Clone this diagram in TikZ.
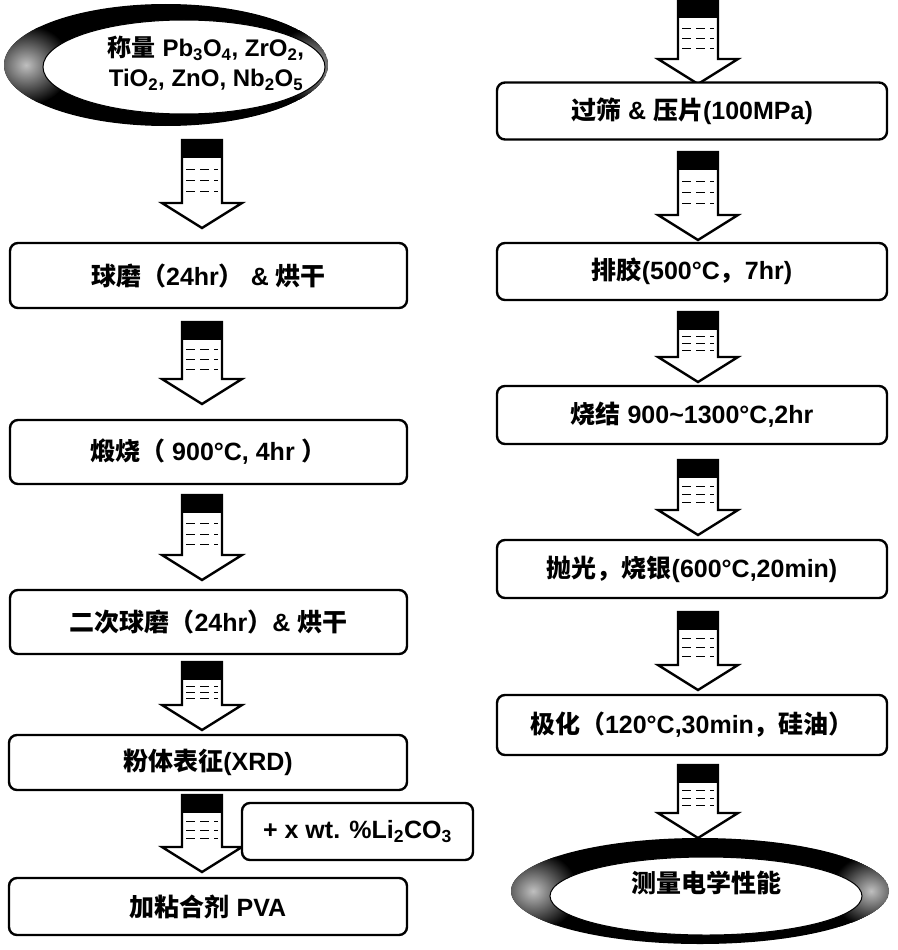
\documentclass[tikz,border=0pt]{standalone}
\usepackage{fontspec}
\setmainfont{Liberation Sans}
\newfontfamily\zhfont{Noto Sans CJK SC}
\newcommand{\zh}[1]{{\zhfont #1}}
\newcommand{\sub}[1]{\textsubscript{#1}}
\newcommand{\barrow}[3]{%
  \fill[white,draw=black,line width=2.4pt,line join=miter]
    ({#1-20},#2) -- ({#1+20},#2) -- ({#1+20},{#3-25}) -- ({#1+40},{#3-25}) --
    (#1,#3) -- ({#1-40},{#3-25}) -- ({#1-20},{#3-25}) -- cycle;
  \fill[black] ({#1-20},#2) rectangle ({#1+20},{#2+18});
  \foreach \k in {1,2,3}{
    \draw[line width=0.8pt,dash pattern=on 9pt off 5pt]
      ({#1-16},{#2+18+\k*((#3-25-#2-18)/4)}) -- ({#1+16},{#2+18+\k*((#3-25-#2-18)/4)});
  }
}
% ring: outer cx cy rx ry, inner cx cy rx ry
\newcommand{\ring}[8]{%
  \begin{scope}
    \clip (#1,#2) ellipse [x radius=#3, y radius=#4];
    \fill[black] (#1,#2) ellipse [x radius=#3, y radius=#4];
    \shade[inner color=gray!50, outer color=black] ({#1-#3+22},#2) ellipse [x radius=45, y radius=40];
    \shade[inner color=gray!50, outer color=black] ({#1+#3-18},#2) ellipse [x radius=40, y radius=36];
  \end{scope}
  \fill[white,draw=black,line width=1pt] (#5,#6) ellipse [x radius=#7, y radius=#8];
}
\tikzset{
  stepbox/.style={draw=black,line width=2.4pt,rounded corners=8pt,fill=white,inner sep=0pt,anchor=center},
  lbl/.style={font=\fontsize{25}{30}\selectfont\bfseries, align=center, inner sep=0pt},
}
\begin{document}
\begin{tikzpicture}[x=1pt,y=-1pt]
\useasboundingbox (0,0) rectangle (897,950);
\fill[white] (0,0) rectangle (897,950);
% ---------- left column ----------
\ring{166}{65}{162}{61}{184}{67}{141}{47}
\node[lbl,font=\fontsize{24}{30}\selectfont\bfseries] (e1) at (206,63) {\zh{称量} Pb\sub{3}O\sub{4}, ZrO\sub{2},\\TiO\sub{2}, ZnO, Nb\sub{2}O\sub{5}};
\barrow{202}{140}{228}
\node[stepbox,minimum width=397pt,minimum height=65pt] (b1) at (208.5,275.5) {};
\node[lbl] at (b1) {\zh{球磨（}24hr\zh{）} \& \zh{烘干}};
\barrow{202}{322}{404}
\node[stepbox,minimum width=397pt,minimum height=64pt] (b2) at (208.5,452) {};
\node[lbl] at (b2) {\zh{煅烧（} 900°C, 4hr \zh{）}};
\barrow{202}{495}{580}
\node[stepbox,minimum width=397pt,minimum height=64pt] (b3) at (208.5,622) {};
\node[lbl] at (b3) {\zh{二次球磨（}24hr\zh{）}\& \zh{烘干}};
\barrow{202}{662}{730}
\node[stepbox,minimum width=398pt,minimum height=55pt] (b4) at (208,762.5) {};
\node[lbl] at (b4) {\zh{粉体表征}(XRD)};
\barrow{202}{795}{872}
\node[stepbox,minimum width=231pt,minimum height=57pt] (li) at (357.5,831.5) {};
\node[lbl] at (li) {+ x wt. \%Li\sub{2}CO\sub{3}};
\node[stepbox,minimum width=398pt,minimum height=57pt] (b5) at (208,906.5) {};
\node[lbl] at (b5) {\zh{加粘合剂} PVA};
% ---------- right column ----------
\barrow{698}{0}{84}
\node[stepbox,minimum width=390pt,minimum height=57pt] (r1) at (692,111) {};
\node[lbl] at (r1) {\zh{过筛} \& \zh{压片}(100MPa)};
\barrow{698}{152}{240}
\node[stepbox,minimum width=390pt,minimum height=57pt] (r2) at (692,271.5) {};
\node[lbl] at (r2) {\zh{排胶}(500°C\zh{，}7hr)};
\barrow{698}{312}{382}
\node[stepbox,minimum width=390pt,minimum height=58pt] (r3) at (692,415) {};
\node[lbl] at (r3) {\zh{烧结} 900\textasciitilde1300°C,2hr};
\barrow{698}{460}{535}
\node[stepbox,minimum width=390pt,minimum height=58pt] (r4) at (692,569) {};
\node[lbl] at (r4) {\zh{抛光，烧银}(600°C,20min)};
\barrow{698}{612}{690}
\node[stepbox,minimum width=390pt,minimum height=60pt] (r5) at (692,725) {};
\node[lbl] at (r5) {\zh{极化（}120°C,30min\zh{，硅油）}};
\barrow{698}{765}{838}
\ring{700}{891}{189}{53}{706}{896}{156}{39}
\node[lbl] (e2) at (706,883) {\zh{测量电学性能}};
\end{tikzpicture}
\end{document}
